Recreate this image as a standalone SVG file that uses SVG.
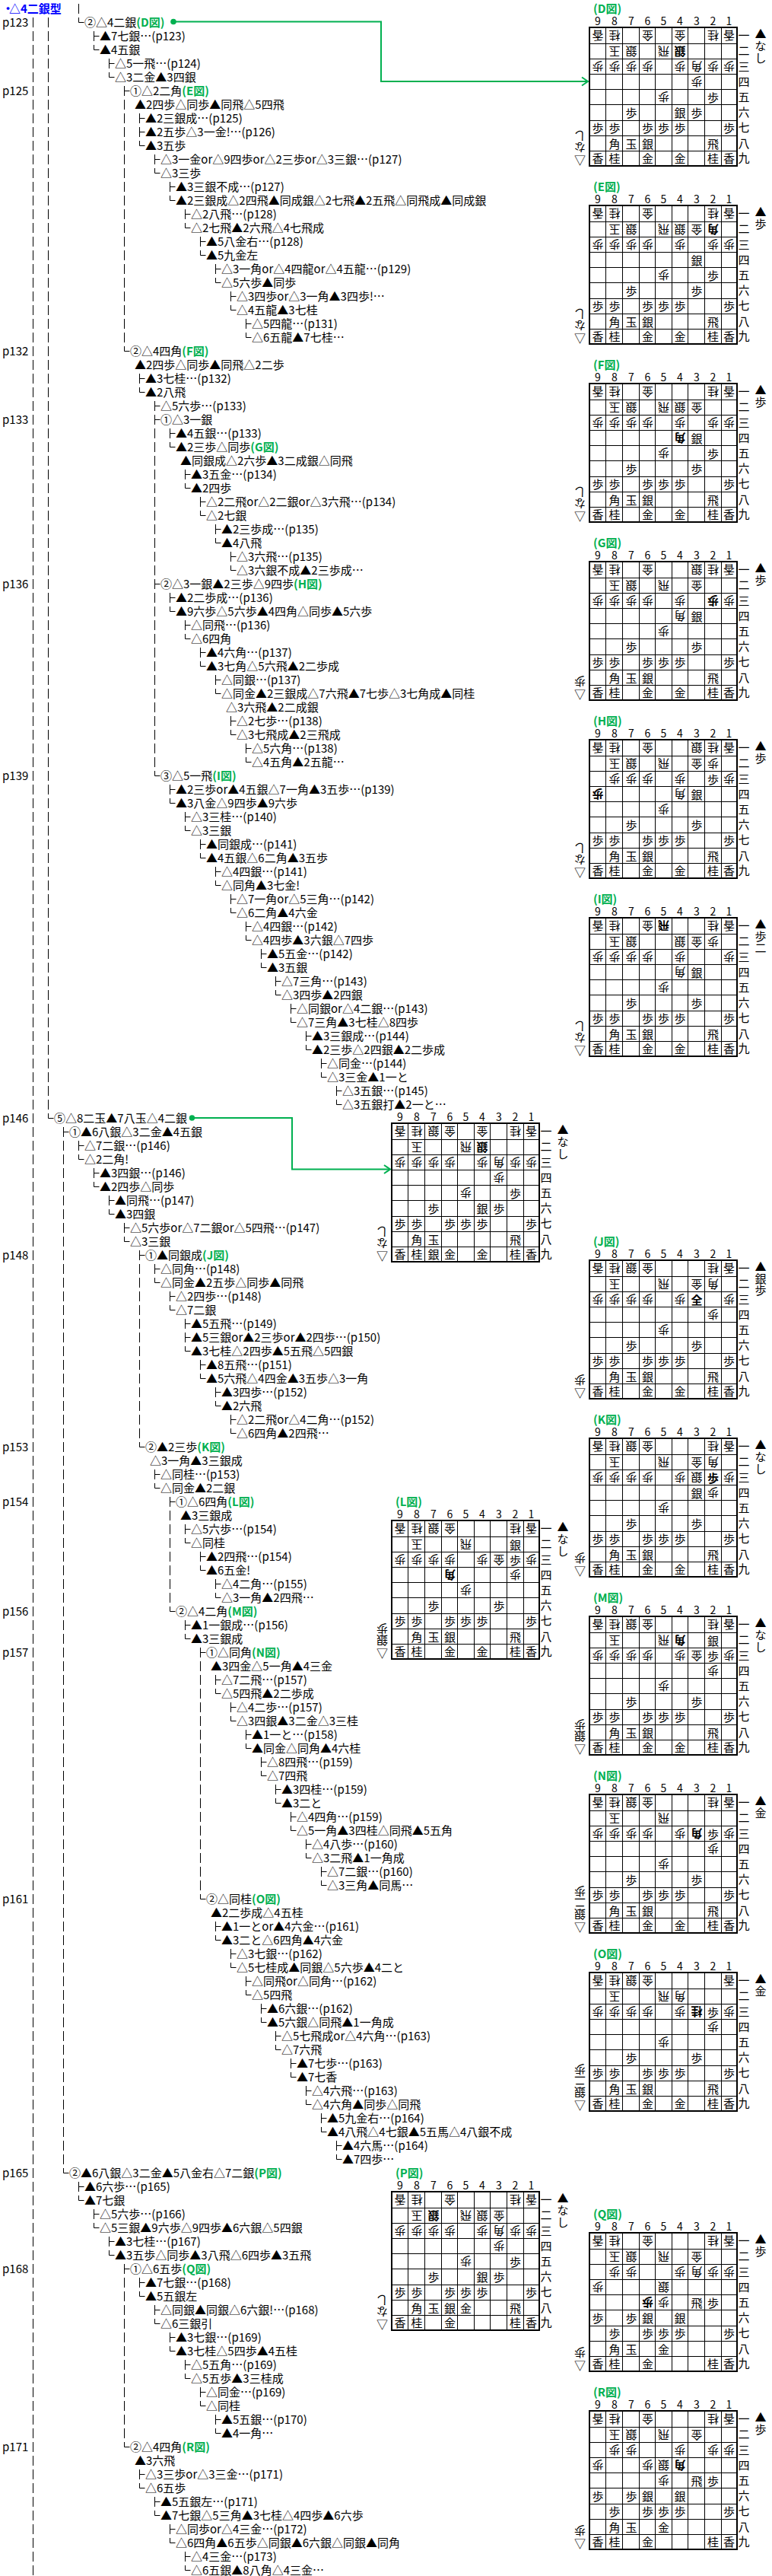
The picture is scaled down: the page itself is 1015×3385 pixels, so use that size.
<svg xmlns="http://www.w3.org/2000/svg" width="1015" height="3385" viewBox="0 0 1015 3385">
<style>
text{font-family:"Noto Sans CJK JP","Noto Sans",sans-serif;font-size:15px;fill:#000}
.g{fill:#00b050;font-weight:700}
.t{fill:#00f;font-weight:700}
.s{text-anchor:middle}
.b{font-weight:700}
.n{text-anchor:middle;font-size:14px}
.c{fill:none;stroke:#000;stroke-width:1}
.d{fill:none;stroke:#000;stroke-width:1;stroke-dasharray:13 5}
.k{fill:none;stroke:#00b050;stroke-width:2}
.o{fill:none;stroke:#000;stroke-width:2}
</style>
<defs>
<marker id="a" markerUnits="userSpaceOnUse" markerWidth="12" markerHeight="14" refX="9" refY="7" orient="auto"><path d="M1 1.5L9 7L1 12.5" fill="none" stroke="#00b050" stroke-width="2"/></marker>
<g id="grid"><path class="c" d="M21.5 0V182M43.5 0V182M65.5 0V182M86.5 0V182M108.5 0V182M129.5 0V182M151.5 0V182M173.5 0V182M0 21.5H194M0 41.5H194M0 61.5H194M0 81.5H194M0 101.5H194M0 122.5H194M0 142.5H194M0 162.5H194"/><rect class="o" width="194" height="182"/></g>
</defs>
<rect width="1015" height="3385" fill="#fff"/>
<g id="connectors">
<path class="d" d="M43.5 23V3384M63.5 23V1458M83.5 1481V2844M103.5 5V18M163.5 113V450M163.5 2975V3204M183.5 149V180M183.5 1643V1890M203.5 527V1008M223.5 1967V2106M243.5 1733V1764M263.5 2165V2484"/>
<path class="c" d="M63.5 1463v6.5h7M83.5 1487.5h7M83.5 2849v6.5h7M103.5 23v6.5h7M163.5 119.5h7M163.5 455v6.5h7M163.5 2981.5h7M163.5 3209v6.5h7M183.5 155.5h7M183.5 173.5h7M183.5 185v6.5h7M183.5 1649.5h7M183.5 1895v6.5h7M203.5 533.5h7M203.5 551.5h7M203.5 767.5h7M203.5 1013v6.5h7M223.5 1973.5h7M223.5 2111v6.5h7M243.5 1739.5h7M243.5 1757.5h7M243.5 1769v6.5h7M263.5 2171.5h7M263.5 2489v6.5h7"/>
<path class="c" d="M103.5 1499v13m0-6.5h7m-7 11.5v6.5h7M103.5 2867v13m0-6.5h7m-7 11.5v6.5h7M123.5 41v13m0-6.5h7m-7 11.5v6.5h7M123.5 1535v13m0-6.5h7m-7 11.5v6.5h7M123.5 2903v13m0-6.5h7m-7 11.5v6.5h7M143.5 77v13m0-6.5h7m-7 11.5v6.5h7M143.5 1571v13m0-6.5h7m-7 11.5v6.5h7M143.5 2939v13m0-6.5h7m-7 11.5v6.5h7M163.5 1607v13m0-6.5h7m-7 11.5v6.5h7M183.5 491v13m0-6.5h7m-7 11.5v6.5h7M183.5 2993v13m0-6.5h7m-7 11.5v6.5h7M183.5 3245v13m0-6.5h7m-7 11.5v6.5h7M203.5 203v13m0-6.5h7m-7 11.5v6.5h7M203.5 1661v13m0-6.5h7m-7 11.5v6.5h7M203.5 1931v13m0-6.5h7m-7 11.5v6.5h7M203.5 3029v13m0-6.5h7m-7 11.5v6.5h7M203.5 3281v13m0-6.5h7m-7 11.5v6.5h7M223.5 239v13m0-6.5h7m-7 11.5v6.5h7M223.5 563v13m0-6.5h7m-7 11.5v6.5h7M223.5 779v13m0-6.5h7m-7 11.5v6.5h7M223.5 1031v13m0-6.5h7m-7 11.5v6.5h7M223.5 1697v13m0-6.5h7m-7 11.5v6.5h7M223.5 3065v13m0-6.5h7m-7 11.5v6.5h7M223.5 3317v13m0-6.5h7m-7 11.5v6.5h7M243.5 275v13m0-6.5h7m-7 11.5v6.5h7M243.5 617v13m0-6.5h7m-7 11.5v6.5h7M243.5 815v13m0-6.5h7m-7 11.5v6.5h7M243.5 1067v13m0-6.5h7m-7 11.5v6.5h7M243.5 2003v13m0-6.5h7m-7 11.5v6.5h7M243.5 2129v13m0-6.5h7m-7 11.5v6.5h7M243.5 3101v13m0-6.5h7m-7 11.5v6.5h7M243.5 3353v13m0-6.5h7m-7 11.5v6.5h7M263.5 311v13m0-6.5h7m-7 11.5v6.5h7M263.5 653v13m0-6.5h7m-7 11.5v6.5h7M263.5 851v13m0-6.5h7m-7 11.5v6.5h7M263.5 1103v13m0-6.5h7m-7 11.5v6.5h7M263.5 1787v13m0-6.5h7m-7 11.5v6.5h7M263.5 2039v13m0-6.5h7m-7 11.5v6.5h7M263.5 3137v13m0-6.5h7m-7 11.5v6.5h7M283.5 347v13m0-6.5h7m-7 11.5v6.5h7M283.5 689v13m0-6.5h7m-7 11.5v6.5h7M283.5 887v13m0-6.5h7m-7 11.5v6.5h7M283.5 1139v13m0-6.5h7m-7 11.5v6.5h7M283.5 1823v13m0-6.5h7m-7 11.5v6.5h7M283.5 2075v13m0-6.5h7m-7 11.5v6.5h7M283.5 2201v13m0-6.5h7m-7 11.5v6.5h7M283.5 2525v13m0-6.5h7m-7 11.5v6.5h7M283.5 3173v13m0-6.5h7m-7 11.5v6.5h7M303.5 383v13m0-6.5h7m-7 11.5v6.5h7M303.5 725v13m0-6.5h7m-7 11.5v6.5h7M303.5 941v13m0-6.5h7m-7 11.5v6.5h7M303.5 1175v13m0-6.5h7m-7 11.5v6.5h7M303.5 1859v13m0-6.5h7m-7 11.5v6.5h7M303.5 2237v13m0-6.5h7m-7 11.5v6.5h7M303.5 2561v13m0-6.5h7m-7 11.5v6.5h7M323.5 419v13m0-6.5h7m-7 11.5v6.5h7M323.5 977v13m0-6.5h7m-7 11.5v6.5h7M323.5 1211v13m0-6.5h7m-7 11.5v6.5h7M323.5 2273v13m0-6.5h7m-7 11.5v6.5h7M323.5 2597v13m0-6.5h7m-7 11.5v6.5h7M343.5 1247v13m0-6.5h7m-7 11.5v6.5h7M343.5 2309v13m0-6.5h7m-7 11.5v6.5h7M343.5 2633v13m0-6.5h7m-7 11.5v6.5h7M362.5 1283v13m0-6.5h7m-7 11.5v6.5h7M362.5 2345v13m0-6.5h7m-7 11.5v6.5h7M362.5 2669v13m0-6.5h7m-7 11.5v6.5h7M382.5 1319v13m0-6.5h7m-7 11.5v6.5h7M382.5 2381v13m0-6.5h7m-7 11.5v6.5h7M382.5 2705v13m0-6.5h7m-7 11.5v6.5h7M402.5 1355v13m0-6.5h7m-7 11.5v6.5h7M402.5 2417v13m0-6.5h7m-7 11.5v6.5h7M402.5 2741v13m0-6.5h7m-7 11.5v6.5h7M422.5 1391v13m0-6.5h7m-7 11.5v6.5h7M422.5 2453v13m0-6.5h7m-7 11.5v6.5h7M422.5 2777v13m0-6.5h7m-7 11.5v6.5h7M442.5 1427v13m0-6.5h7m-7 11.5v6.5h7M442.5 2813v13m0-6.5h7m-7 11.5v6.5h7"/>
<circle cx="228" cy="28.5" r="3.8" fill="#00b050"/>
<path class="k" marker-end="url(#a)" d="M228 28.5H501V107H773"/>
<circle cx="252.5" cy="1469" r="3.8" fill="#00b050"/>
<path class="k" marker-end="url(#a)" d="M252.5 1469H384V1536.5H513"/>
</g>
<g id="r0"><text class="t" x="3" y="17">・<tspan x="12">△4二銀型</tspan></text></g>
<g id="r1"><text x="3" y="35">p123</text><text x="111" y="35">②△4二銀<tspan class="g">(D図)</tspan></text></g>
<g id="r2"><text x="131" y="53">▲7七銀…(p123)</text></g>
<g id="r3"><text x="131" y="71">▲4五銀</text></g>
<g id="r4"><text x="151" y="89">△5一飛…(p124)</text></g>
<g id="r5"><text x="151" y="107">△3二金▲3四銀</text></g>
<g id="r6"><text x="3" y="125">p125</text><text x="171" y="125">①△2二角<tspan class="g">(E図)</tspan></text></g>
<g id="r7"><text x="177" y="143">▲2四歩△同歩▲同飛△5四飛</text></g>
<g id="r8"><text x="191" y="161">▲2三銀成…(p125)</text></g>
<g id="r9"><text x="191" y="179">▲2五歩△3一金!…(p126)</text></g>
<g id="r10"><text x="191" y="197">▲3五歩</text></g>
<g id="r11"><text x="211" y="215">△3一金or△9四歩or△2三歩or△3三銀…(p127)</text></g>
<g id="r12"><text x="211" y="233">△3三歩</text></g>
<g id="r13"><text x="231" y="251">▲3三銀不成…(p127)</text></g>
<g id="r14"><text x="231" y="269">▲2三銀成△2四飛▲同成銀△2七飛▲2五飛△同飛成▲同成銀</text></g>
<g id="r15"><text x="251" y="287">△2八飛…(p128)</text></g>
<g id="r16"><text x="251" y="305">△2七飛▲2六飛△4七飛成</text></g>
<g id="r17"><text x="271" y="323">▲5八金右…(p128)</text></g>
<g id="r18"><text x="271" y="341">▲5九金左</text></g>
<g id="r19"><text x="291" y="359">△3一角or△4四龍or△4五龍…(p129)</text></g>
<g id="r20"><text x="291" y="377">△5六歩▲同歩</text></g>
<g id="r21"><text x="311" y="395">△3四歩or△3一角▲3四歩!…</text></g>
<g id="r22"><text x="311" y="413">△4五龍▲3七桂</text></g>
<g id="r23"><text x="331" y="431">△5四龍…(p131)</text></g>
<g id="r24"><text x="331" y="449">△6五龍▲7七桂…</text></g>
<g id="r25"><text x="3" y="467">p132</text><text x="171" y="467">②△4四角<tspan class="g">(F図)</tspan></text></g>
<g id="r26"><text x="177" y="485">▲2四歩△同歩▲同飛△2二歩</text></g>
<g id="r27"><text x="191" y="503">▲3七桂…(p132)</text></g>
<g id="r28"><text x="191" y="521">▲2八飛</text></g>
<g id="r29"><text x="211" y="539">△5六歩…(p133)</text></g>
<g id="r30"><text x="3" y="557">p133</text><text x="211" y="557">①△3一銀</text></g>
<g id="r31"><text x="231" y="575">▲4五銀…(p133)</text></g>
<g id="r32"><text x="231" y="593">▲2三歩△同歩<tspan class="g">(G図)</tspan></text></g>
<g id="r33"><text x="237" y="611">▲同銀成△2六歩▲3二成銀△同飛</text></g>
<g id="r34"><text x="251" y="629">▲3五金…(p134)</text></g>
<g id="r35"><text x="251" y="647">▲2四歩</text></g>
<g id="r36"><text x="271" y="665">△2二飛or△2二銀or△3六飛…(p134)</text></g>
<g id="r37"><text x="271" y="683">△2七銀</text></g>
<g id="r38"><text x="291" y="701">▲2三歩成…(p135)</text></g>
<g id="r39"><text x="291" y="719">▲4八飛</text></g>
<g id="r40"><text x="311" y="737">△3六飛…(p135)</text></g>
<g id="r41"><text x="311" y="755">△3六銀不成▲2三歩成…</text></g>
<g id="r42"><text x="3" y="773">p136</text><text x="211" y="773">②△3一銀▲2三歩△9四歩<tspan class="g">(H図)</tspan></text></g>
<g id="r43"><text x="231" y="791">▲2二歩成…(p136)</text></g>
<g id="r44"><text x="231" y="809">▲9六歩△5六歩▲4四角△同歩▲5六歩</text></g>
<g id="r45"><text x="251" y="827">△同飛…(p136)</text></g>
<g id="r46"><text x="251" y="845">△6四角</text></g>
<g id="r47"><text x="271" y="863">▲4六角…(p137)</text></g>
<g id="r48"><text x="271" y="881">▲3七角△5六飛▲2二歩成</text></g>
<g id="r49"><text x="291" y="899">△同銀…(p137)</text></g>
<g id="r50"><text x="291" y="917">△同金▲2三銀成△7六飛▲7七歩△3七角成▲同桂</text></g>
<g id="r51"><text x="297" y="935">△3六飛▲2二成銀</text></g>
<g id="r52"><text x="311" y="953">△2七歩…(p138)</text></g>
<g id="r53"><text x="311" y="971">△3七飛成▲2三飛成</text></g>
<g id="r54"><text x="331" y="989">△5六角…(p138)</text></g>
<g id="r55"><text x="331" y="1007">△4五角▲2五龍…</text></g>
<g id="r56"><text x="3" y="1025">p139</text><text x="211" y="1025">③△5一飛<tspan class="g">(I図)</tspan></text></g>
<g id="r57"><text x="231" y="1043">▲2三歩or▲4五銀△7一角▲3五歩…(p139)</text></g>
<g id="r58"><text x="231" y="1061">▲3八金△9四歩▲9六歩</text></g>
<g id="r59"><text x="251" y="1079">△3三桂…(p140)</text></g>
<g id="r60"><text x="251" y="1097">△3三銀</text></g>
<g id="r61"><text x="271" y="1115">▲同銀成…(p141)</text></g>
<g id="r62"><text x="271" y="1133">▲4五銀△6二角▲3五歩</text></g>
<g id="r63"><text x="291" y="1151">△4四銀…(p141)</text></g>
<g id="r64"><text x="291" y="1169">△同角▲3七金!</text></g>
<g id="r65"><text x="311" y="1187">△7一角or△5三角…(p142)</text></g>
<g id="r66"><text x="311" y="1205">△6二角▲4六金</text></g>
<g id="r67"><text x="331" y="1223">△4四銀…(p142)</text></g>
<g id="r68"><text x="331" y="1241">△4四歩▲3六銀△7四歩</text></g>
<g id="r69"><text x="351" y="1259">▲5五金…(p142)</text></g>
<g id="r70"><text x="351" y="1277">▲3五銀</text></g>
<g id="r71"><text x="370" y="1295">△7三角…(p143)</text></g>
<g id="r72"><text x="370" y="1313">△3四歩▲2四銀</text></g>
<g id="r73"><text x="390" y="1331">△同銀or△4二銀…(p143)</text></g>
<g id="r74"><text x="390" y="1349">△7三角▲3七桂△8四歩</text></g>
<g id="r75"><text x="410" y="1367">▲3三銀成…(p144)</text></g>
<g id="r76"><text x="410" y="1385">▲2三歩△2四銀▲2二歩成</text></g>
<g id="r77"><text x="430" y="1403">△同金…(p144)</text></g>
<g id="r78"><text x="430" y="1421">△3三金▲1一と</text></g>
<g id="r79"><text x="450" y="1439">△3五銀…(p145)</text></g>
<g id="r80"><text x="450" y="1457">△3五銀打▲2一と…</text></g>
<g id="r81"><text x="3" y="1475">p146</text><text x="71" y="1475">⑤△8二玉▲7八玉△4二銀</text></g>
<g id="r82"><text x="91" y="1493">①▲6八銀△3二金▲4五銀</text></g>
<g id="r83"><text x="111" y="1511">△7二銀…(p146)</text></g>
<g id="r84"><text x="111" y="1529">△2二角!</text></g>
<g id="r85"><text x="131" y="1547">▲3四銀…(p146)</text></g>
<g id="r86"><text x="131" y="1565">▲2四歩△同歩</text></g>
<g id="r87"><text x="151" y="1583">▲同飛…(p147)</text></g>
<g id="r88"><text x="151" y="1601">▲3四銀</text></g>
<g id="r89"><text x="171" y="1619">△5六歩or△7二銀or△5四飛…(p147)</text></g>
<g id="r90"><text x="171" y="1637">△3三銀</text></g>
<g id="r91"><text x="3" y="1655">p148</text><text x="191" y="1655">①▲同銀成<tspan class="g">(J図)</tspan></text></g>
<g id="r92"><text x="211" y="1673">△同角…(p148)</text></g>
<g id="r93"><text x="211" y="1691">△同金▲2五歩△同歩▲同飛</text></g>
<g id="r94"><text x="231" y="1709">△2四歩…(p148)</text></g>
<g id="r95"><text x="231" y="1727">△7二銀</text></g>
<g id="r96"><text x="251" y="1745">▲5五飛…(p149)</text></g>
<g id="r97"><text x="251" y="1763">▲5三銀or▲2三歩or▲2四歩…(p150)</text></g>
<g id="r98"><text x="251" y="1781">▲3七桂△2四歩▲5五飛△5四銀</text></g>
<g id="r99"><text x="271" y="1799">▲8五飛…(p151)</text></g>
<g id="r100"><text x="271" y="1817">▲5六飛△4四金▲3五歩△3一角</text></g>
<g id="r101"><text x="291" y="1835">▲3四歩…(p152)</text></g>
<g id="r102"><text x="291" y="1853">▲2六飛</text></g>
<g id="r103"><text x="311" y="1871">△2二飛or△4二角…(p152)</text></g>
<g id="r104"><text x="311" y="1889">△6四角▲2四飛…</text></g>
<g id="r105"><text x="3" y="1907">p153</text><text x="191" y="1907">②▲2三歩<tspan class="g">(K図)</tspan></text></g>
<g id="r106"><text x="197" y="1925">△3一角▲3三銀成</text></g>
<g id="r107"><text x="211" y="1943">△同桂…(p153)</text></g>
<g id="r108"><text x="211" y="1961">△同金▲2二銀</text></g>
<g id="r109"><text x="3" y="1979">p154</text><text x="231" y="1979">①△6四角<tspan class="g">(L図)</tspan></text></g>
<g id="r110"><text x="237" y="1997">▲3三銀成</text></g>
<g id="r111"><text x="251" y="2015">△5六歩…(p154)</text></g>
<g id="r112"><text x="251" y="2033">△同桂</text></g>
<g id="r113"><text x="271" y="2051">▲2四飛…(p154)</text></g>
<g id="r114"><text x="271" y="2069">▲6五金!</text></g>
<g id="r115"><text x="291" y="2087">△4二角…(p155)</text></g>
<g id="r116"><text x="291" y="2105">△3一角▲2四飛…</text></g>
<g id="r117"><text x="3" y="2123">p156</text><text x="231" y="2123">②△4二角<tspan class="g">(M図)</tspan></text></g>
<g id="r118"><text x="251" y="2141">▲1一銀成…(p156)</text></g>
<g id="r119"><text x="251" y="2159">▲3三銀成</text></g>
<g id="r120"><text x="3" y="2177">p157</text><text x="271" y="2177">①△同角<tspan class="g">(N図)</tspan></text></g>
<g id="r121"><text x="277" y="2195">▲3四金△5一角▲4三金</text></g>
<g id="r122"><text x="291" y="2213">△7二飛…(p157)</text></g>
<g id="r123"><text x="291" y="2231">△5四飛▲2二歩成</text></g>
<g id="r124"><text x="311" y="2249">△4二歩…(p157)</text></g>
<g id="r125"><text x="311" y="2267">△3四銀▲3二金△3三桂</text></g>
<g id="r126"><text x="331" y="2285">▲1一と…(p158)</text></g>
<g id="r127"><text x="331" y="2303">▲同金△同角▲4六桂</text></g>
<g id="r128"><text x="351" y="2321">△8四飛…(p159)</text></g>
<g id="r129"><text x="351" y="2339">△7四飛</text></g>
<g id="r130"><text x="370" y="2357">▲3四桂…(p159)</text></g>
<g id="r131"><text x="370" y="2375">▲3二と</text></g>
<g id="r132"><text x="390" y="2393">△4四角…(p159)</text></g>
<g id="r133"><text x="390" y="2411">△5一角▲3四桂△同飛▲5五角</text></g>
<g id="r134"><text x="410" y="2429">△4八歩…(p160)</text></g>
<g id="r135"><text x="410" y="2447">△3二飛▲1一角成</text></g>
<g id="r136"><text x="430" y="2465">△7二銀…(p160)</text></g>
<g id="r137"><text x="430" y="2483">△3三角▲同馬…</text></g>
<g id="r138"><text x="3" y="2501">p161</text><text x="271" y="2501">②△同桂<tspan class="g">(O図)</tspan></text></g>
<g id="r139"><text x="277" y="2519">▲2二歩成△4五桂</text></g>
<g id="r140"><text x="291" y="2537">▲1一とor▲4六金…(p161)</text></g>
<g id="r141"><text x="291" y="2555">▲3二と△6四角▲4六金</text></g>
<g id="r142"><text x="311" y="2573">△3七銀…(p162)</text></g>
<g id="r143"><text x="311" y="2591">△5七桂成▲同銀△5六歩▲4二と</text></g>
<g id="r144"><text x="331" y="2609">△同飛or△同角…(p162)</text></g>
<g id="r145"><text x="331" y="2627">△5四飛</text></g>
<g id="r146"><text x="351" y="2645">▲6六銀…(p162)</text></g>
<g id="r147"><text x="351" y="2663">▲5六銀△同飛▲1一角成</text></g>
<g id="r148"><text x="370" y="2681">△5七飛成or△4六角…(p163)</text></g>
<g id="r149"><text x="370" y="2699">△7六飛</text></g>
<g id="r150"><text x="390" y="2717">▲7七歩…(p163)</text></g>
<g id="r151"><text x="390" y="2735">▲7七香</text></g>
<g id="r152"><text x="410" y="2753">△4六飛…(p163)</text></g>
<g id="r153"><text x="410" y="2771">△4六角▲同歩△同飛</text></g>
<g id="r154"><text x="430" y="2789">▲5九金右…(p164)</text></g>
<g id="r155"><text x="430" y="2807">▲4八飛△4七銀▲5五馬△4八銀不成</text></g>
<g id="r156"><text x="450" y="2825">▲4六馬…(p164)</text></g>
<g id="r157"><text x="450" y="2843">▲7四歩…</text></g>
<g id="r158"><text x="3" y="2861">p165</text><text x="91" y="2861">②▲6八銀△3二金▲5八金右△7二銀<tspan class="g">(P図)</tspan></text></g>
<g id="r159"><text x="111" y="2879">▲6六歩…(p165)</text></g>
<g id="r160"><text x="111" y="2897">▲7七銀</text></g>
<g id="r161"><text x="131" y="2915">△5六歩…(p166)</text></g>
<g id="r162"><text x="131" y="2933">△5三銀▲9六歩△9四歩▲6六銀△5四銀</text></g>
<g id="r163"><text x="151" y="2951">▲3七桂…(p167)</text></g>
<g id="r164"><text x="151" y="2969">▲3五歩△同歩▲3八飛△6四歩▲3五飛</text></g>
<g id="r165"><text x="3" y="2987">p168</text><text x="171" y="2987">①△6五歩<tspan class="g">(Q図)</tspan></text></g>
<g id="r166"><text x="191" y="3005">▲7七銀…(p168)</text></g>
<g id="r167"><text x="191" y="3023">▲5五銀左</text></g>
<g id="r168"><text x="211" y="3041">△同銀▲同銀△6六銀!…(p168)</text></g>
<g id="r169"><text x="211" y="3059">△6三銀引</text></g>
<g id="r170"><text x="231" y="3077">▲3七銀…(p169)</text></g>
<g id="r171"><text x="231" y="3095">▲3七桂△5四歩▲4五桂</text></g>
<g id="r172"><text x="251" y="3113">△5五角…(p169)</text></g>
<g id="r173"><text x="251" y="3131">△5五歩▲3三桂成</text></g>
<g id="r174"><text x="271" y="3149">△同金…(p169)</text></g>
<g id="r175"><text x="271" y="3167">△同桂</text></g>
<g id="r176"><text x="291" y="3185">▲5五銀…(p170)</text></g>
<g id="r177"><text x="291" y="3203">▲4一角…</text></g>
<g id="r178"><text x="3" y="3221">p171</text><text x="171" y="3221">②△4四角<tspan class="g">(R図)</tspan></text></g>
<g id="r179"><text x="177" y="3239">▲3六飛</text></g>
<g id="r180"><text x="191" y="3257">△3三歩or△3三金…(p171)</text></g>
<g id="r181"><text x="191" y="3275">△6五歩</text></g>
<g id="r182"><text x="211" y="3293">▲5五銀左…(p171)</text></g>
<g id="r183"><text x="211" y="3311">▲7七銀△5三角▲3七桂△4四歩▲6六歩</text></g>
<g id="r184"><text x="231" y="3329">△同歩or△4三金…(p172)</text></g>
<g id="r185"><text x="231" y="3347">△6四角▲6五歩△同銀▲6六銀△同銀▲同角</text></g>
<g id="r186"><text x="251" y="3365">△4三金…(p173)</text></g>
<g id="r187"><text x="251" y="3383">△6五銀▲8八角△4三金…</text></g>

<g id="board-D" transform="translate(775,36)"><use href="#grid"/><text class="g" x="5" y="-19">(D図)</text><text class="n" x="11 33 55 76.5 97.5 119 141 162.5 183.5" y="-3">987654321</text><text class="s" x="203 203 203 203 203 203 203 203 203" y="16 36 57 77 97 117 137 158 177">一二三四五六七八九</text>
<text class="s" x="225 225 225" y="14.3 29.5 45.5">▲なし</text><text class="s" x="-12.5" y="180">▽</text><text rotate="180" x="-5 -5" y="152.3 137.3">なし</text>
<text rotate="180" x="18.5 40.5 84 126.5 170 191" y="5.3">香桂金金桂香</text><text rotate="180" x="40.5 62.5 105" y="26.3">玉銀飛</text><text class="b" rotate="180" x="126.5" y="26.3">銀</text><text rotate="180" x="18.5 40.5 62.5 84 126.5 148.5 170 191" y="46.3">歩歩歩歩歩角歩歩</text><text rotate="180" x="148.5" y="66.3">歩</text><text rotate="180" x="105" y="86.3">歩</text>
<text class="s" x="162.5" y="97.7">歩</text><text class="s" x="55 119 141" y="117.7">歩銀歩</text><text class="s" x="11 33 76.5 97.5 119 183.5" y="138.2">歩歩歩歩歩歩</text><text class="s" x="33 55 76.5 162.5" y="158.7">角玉銀飛</text><text class="s" x="11 33 76.5 119 162.5 183.5" y="178.2">香桂金金桂香</text></g>

<g id="board-E" transform="translate(775,270)"><use href="#grid"/><text class="g" x="5" y="-19">(E図)</text><text class="n" x="11 33 55 76.5 97.5 119 141 162.5 183.5" y="-3">987654321</text><text class="s" x="203 203 203 203 203 203 203 203 203" y="16 36 57 77 97 117 137 158 177">一二三四五六七八九</text>
<text class="s" x="225 225" y="14.3 29.5">▲歩</text><text class="s" x="-12.5" y="180">▽</text><text rotate="180" x="-5 -5" y="152.3 137.3">なし</text>
<text rotate="180" x="18.5 40.5 84 170 191" y="5.3">香桂金桂香</text><text rotate="180" x="40.5 62.5 105 126.5 148.5" y="26.3">玉銀飛銀金</text><text class="b" rotate="180" x="170" y="26.3">角</text><text rotate="180" x="18.5 40.5 62.5 84 126.5 170 191" y="46.3">歩歩歩歩歩歩歩</text><text rotate="180" x="105" y="86.3">歩</text>
<text class="s" x="141" y="77.7">銀</text><text class="s" x="162.5" y="97.7">歩</text><text class="s" x="55 141" y="117.7">歩歩</text><text class="s" x="11 33 76.5 97.5 119 183.5" y="138.2">歩歩歩歩歩歩</text><text class="s" x="33 55 76.5 162.5" y="158.7">角玉銀飛</text><text class="s" x="11 33 76.5 119 162.5 183.5" y="178.2">香桂金金桂香</text></g>

<g id="board-F" transform="translate(775,504)"><use href="#grid"/><text class="g" x="5" y="-19">(F図)</text><text class="n" x="11 33 55 76.5 97.5 119 141 162.5 183.5" y="-3">987654321</text><text class="s" x="203 203 203 203 203 203 203 203 203" y="16 36 57 77 97 117 137 158 177">一二三四五六七八九</text>
<text class="s" x="225 225" y="14.3 29.5">▲歩</text><text class="s" x="-12.5" y="180">▽</text><text rotate="180" x="-5 -5" y="152.3 137.3">なし</text>
<text rotate="180" x="18.5 40.5 84 170 191" y="5.3">香桂金桂香</text><text rotate="180" x="40.5 62.5 105 126.5 148.5" y="26.3">玉銀飛銀金</text><text rotate="180" x="18.5 40.5 62.5 84 126.5 170 191" y="46.3">歩歩歩歩歩歩歩</text><text class="b" rotate="180" x="126.5" y="66.3">角</text><text rotate="180" x="105" y="86.3">歩</text>
<text class="s" x="141" y="77.7">銀</text><text class="s" x="162.5" y="97.7">歩</text><text class="s" x="55 141" y="117.7">歩歩</text><text class="s" x="11 33 76.5 97.5 119 183.5" y="138.2">歩歩歩歩歩歩</text><text class="s" x="33 55 76.5 162.5" y="158.7">角玉銀飛</text><text class="s" x="11 33 76.5 119 162.5 183.5" y="178.2">香桂金金桂香</text></g>

<g id="board-G" transform="translate(775,738)"><use href="#grid"/><text class="g" x="5" y="-19">(G図)</text><text class="n" x="11 33 55 76.5 97.5 119 141 162.5 183.5" y="-3">987654321</text><text class="s" x="203 203 203 203 203 203 203 203 203" y="16 36 57 77 97 117 137 158 177">一二三四五六七八九</text>
<text class="s" x="225 225" y="14.3 29.5">▲歩</text><text class="s" x="-12.5" y="180">▽</text><text rotate="180" x="-5" y="152.3">歩</text>
<text rotate="180" x="18.5 40.5 84 148.5 170 191" y="5.3">香桂金銀桂香</text><text rotate="180" x="40.5 62.5 105 148.5" y="26.3">玉銀飛金</text><text rotate="180" x="18.5 40.5 62.5 84 126.5 191" y="46.3">歩歩歩歩歩歩</text><text class="b" rotate="180" x="170" y="46.3">歩</text><text rotate="180" x="126.5" y="66.3">角</text><text rotate="180" x="105" y="86.3">歩</text>
<text class="s" x="141" y="77.7">銀</text><text class="s" x="55 141" y="117.7">歩歩</text><text class="s" x="11 33 76.5 97.5 119 183.5" y="138.2">歩歩歩歩歩歩</text><text class="s" x="33 55 76.5 162.5" y="158.7">角玉銀飛</text><text class="s" x="11 33 76.5 119 162.5 183.5" y="178.2">香桂金金桂香</text></g>

<g id="board-H" transform="translate(775,972)"><use href="#grid"/><text class="g" x="5" y="-19">(H図)</text><text class="n" x="11 33 55 76.5 97.5 119 141 162.5 183.5" y="-3">987654321</text><text class="s" x="203 203 203 203 203 203 203 203 203" y="16 36 57 77 97 117 137 158 177">一二三四五六七八九</text>
<text class="s" x="225 225" y="14.3 29.5">▲歩</text><text class="s" x="-12.5" y="180">▽</text><text rotate="180" x="-5 -5" y="152.3 137.3">なし</text>
<text rotate="180" x="18.5 40.5 84 148.5 170 191" y="5.3">香桂金銀桂香</text><text rotate="180" x="40.5 62.5 105 148.5 170" y="26.3">玉銀飛金歩</text><text rotate="180" x="40.5 62.5 84 126.5 191" y="46.3">歩歩歩歩歩</text><text class="b" rotate="180" x="18.5" y="66.3">歩</text><text rotate="180" x="126.5" y="66.3">角</text><text rotate="180" x="105" y="86.3">歩</text>
<text class="s" x="162.5" y="57.7">歩</text><text class="s" x="141" y="77.7">銀</text><text class="s" x="55 141" y="117.7">歩歩</text><text class="s" x="11 33 76.5 97.5 119 183.5" y="138.2">歩歩歩歩歩歩</text><text class="s" x="33 55 76.5 162.5" y="158.7">角玉銀飛</text><text class="s" x="11 33 76.5 119 162.5 183.5" y="178.2">香桂金金桂香</text></g>

<g id="board-I" transform="translate(775,1206)"><use href="#grid"/><text class="g" x="5" y="-19">(I図)</text><text class="n" x="11 33 55 76.5 97.5 119 141 162.5 183.5" y="-3">987654321</text><text class="s" x="203 203 203 203 203 203 203 203 203" y="16 36 57 77 97 117 137 158 177">一二三四五六七八九</text>
<text class="s" x="225 225 225" y="14.3 29.5 45">▲歩二</text><text class="s" x="-12.5" y="180">▽</text><text rotate="180" x="-5 -5" y="152.3 137.3">なし</text>
<text rotate="180" x="18.5 40.5 84 170 191" y="5.3">香桂金桂香</text><text class="b" rotate="180" x="105" y="5.3">飛</text><text rotate="180" x="40.5 62.5 126.5 148.5 170" y="26.3">玉銀銀金歩</text><text rotate="180" x="18.5 40.5 62.5 84 126.5 191" y="46.3">歩歩歩歩歩歩</text><text rotate="180" x="126.5" y="66.3">角</text><text rotate="180" x="105" y="86.3">歩</text>
<text class="s" x="141" y="77.7">銀</text><text class="s" x="55 141" y="117.7">歩歩</text><text class="s" x="11 33 76.5 97.5 119 183.5" y="138.2">歩歩歩歩歩歩</text><text class="s" x="33 55 76.5 162.5" y="158.7">角玉銀飛</text><text class="s" x="11 33 76.5 119 162.5 183.5" y="178.2">香桂金金桂香</text></g>

<g id="board-X" transform="translate(515,1476)"><use href="#grid"/><text class="n" x="11 33 55 76.5 97.5 119 141 162.5 183.5" y="-3">987654321</text><text class="s" x="203 203 203 203 203 203 203 203 203" y="16 36 57 77 97 117 137 158 177">一二三四五六七八九</text>
<text class="s" x="225 225 225" y="14.3 29.5 45.5">▲なし</text><text class="s" x="-12.5" y="180">▽</text><text rotate="180" x="-5 -5" y="152.3 137.3">なし</text>
<text rotate="180" x="18.5 40.5 62.5 84 126.5 170 191" y="5.3">香桂銀金金桂香</text><text rotate="180" x="40.5 105" y="26.3">玉飛</text><text class="b" rotate="180" x="126.5" y="26.3">銀</text><text rotate="180" x="18.5 40.5 62.5 84 126.5 148.5 170 191" y="46.3">歩歩歩歩歩角歩歩</text><text rotate="180" x="148.5" y="66.3">歩</text><text rotate="180" x="105" y="86.3">歩</text>
<text class="s" x="162.5" y="97.7">歩</text><text class="s" x="55 119 141" y="117.7">歩銀歩</text><text class="s" x="11 33 76.5 97.5 119 183.5" y="138.2">歩歩歩歩歩歩</text><text class="s" x="33 55 162.5" y="158.7">角玉飛</text><text class="s" x="11 33 55 76.5 119 162.5 183.5" y="178.2">香桂銀金金桂香</text></g>

<g id="board-J" transform="translate(775,1656)"><use href="#grid"/><text class="g" x="5" y="-19">(J図)</text><text class="n" x="11 33 55 76.5 97.5 119 141 162.5 183.5" y="-3">987654321</text><text class="s" x="203 203 203 203 203 203 203 203 203" y="16 36 57 77 97 117 137 158 177">一二三四五六七八九</text>
<text class="s" x="225 225 225" y="14.3 29.5 45">▲銀歩</text><text class="s" x="-12.5" y="180">▽</text><text rotate="180" x="-5" y="152.3">歩</text>
<text rotate="180" x="18.5 40.5 62.5 84 170 191" y="5.3">香桂銀金桂香</text><text rotate="180" x="40.5 105 148.5 170" y="26.3">玉飛金角</text><text rotate="180" x="18.5 40.5 62.5 84 126.5 191" y="46.3">歩歩歩歩歩歩</text><text rotate="180" x="170" y="66.3">歩</text><text rotate="180" x="105" y="86.3">歩</text>
<text class="s b" x="141" y="57.7">全</text><text class="s" x="55 141" y="117.7">歩歩</text><text class="s" x="11 33 76.5 97.5 119 183.5" y="138.2">歩歩歩歩歩歩</text><text class="s" x="33 55 76.5 162.5" y="158.7">角玉銀飛</text><text class="s" x="11 33 76.5 119 162.5 183.5" y="178.2">香桂金金桂香</text></g>

<g id="board-K" transform="translate(775,1890)"><use href="#grid"/><text class="g" x="5" y="-19">(K図)</text><text class="n" x="11 33 55 76.5 97.5 119 141 162.5 183.5" y="-3">987654321</text><text class="s" x="203 203 203 203 203 203 203 203 203" y="16 36 57 77 97 117 137 158 177">一二三四五六七八九</text>
<text class="s" x="225 225 225" y="14.3 29.5 45.5">▲なし</text><text class="s" x="-12.5" y="180">▽</text><text rotate="180" x="-5" y="152.3">歩</text>
<text rotate="180" x="18.5 40.5 62.5 84 170 191" y="5.3">香桂銀金桂香</text><text rotate="180" x="40.5 105 148.5 170" y="26.3">玉飛金角</text><text rotate="180" x="18.5 40.5 62.5 84 126.5 148.5 191" y="46.3">歩歩歩歩歩銀歩</text><text rotate="180" x="170" y="66.3">歩</text><text rotate="180" x="105" y="86.3">歩</text>
<text class="s b" x="162.5" y="57.7">歩</text><text class="s" x="141" y="77.7">銀</text><text class="s" x="55 141" y="117.7">歩歩</text><text class="s" x="11 33 76.5 97.5 119 183.5" y="138.2">歩歩歩歩歩歩</text><text class="s" x="33 55 76.5 162.5" y="158.7">角玉銀飛</text><text class="s" x="11 33 76.5 119 162.5 183.5" y="178.2">香桂金金桂香</text></g>

<g id="board-L" transform="translate(515,1998)"><use href="#grid"/><text class="g" x="5" y="-19">(L図)</text><text class="n" x="11 33 55 76.5 97.5 119 141 162.5 183.5" y="-3">987654321</text><text class="s" x="203 203 203 203 203 203 203 203 203" y="16 36 57 77 97 117 137 158 177">一二三四五六七八九</text>
<text class="s" x="225 225 225" y="14.3 29.5 45.5">▲なし</text><text class="s" x="-12.5" y="180">▽</text><text rotate="180" x="-5 -5" y="152.3 137.3">銀歩</text>
<text rotate="180" x="18.5 40.5 62.5 84 170 191" y="5.3">香桂銀金桂香</text><text rotate="180" x="40.5 105" y="26.3">玉飛</text><text rotate="180" x="18.5 40.5 62.5 84 126.5 148.5 191" y="46.3">歩歩歩歩歩金歩</text><text class="b" rotate="180" x="84" y="66.3">角</text><text rotate="180" x="170" y="66.3">歩</text><text rotate="180" x="105" y="86.3">歩</text>
<text class="s" x="162.5" y="37.7">銀</text><text class="s" x="162.5" y="57.7">歩</text><text class="s" x="55 141" y="117.7">歩歩</text><text class="s" x="11 33 76.5 97.5 119 183.5" y="138.2">歩歩歩歩歩歩</text><text class="s" x="33 55 76.5 162.5" y="158.7">角玉銀飛</text><text class="s" x="11 33 76.5 119 162.5 183.5" y="178.2">香桂金金桂香</text></g>

<g id="board-M" transform="translate(775,2124)"><use href="#grid"/><text class="g" x="5" y="-19">(M図)</text><text class="n" x="11 33 55 76.5 97.5 119 141 162.5 183.5" y="-3">987654321</text><text class="s" x="203 203 203 203 203 203 203 203 203" y="16 36 57 77 97 117 137 158 177">一二三四五六七八九</text>
<text class="s" x="225 225 225" y="14.3 29.5 45.5">▲なし</text><text class="s" x="-12.5" y="180">▽</text><text rotate="180" x="-5 -5" y="152.3 137.3">銀歩</text>
<text rotate="180" x="18.5 40.5 62.5 84 170 191" y="5.3">香桂銀金桂香</text><text rotate="180" x="40.5 105" y="26.3">玉飛</text><text class="b" rotate="180" x="126.5" y="26.3">角</text><text rotate="180" x="18.5 40.5 62.5 84 126.5 148.5 191" y="46.3">歩歩歩歩歩金歩</text><text rotate="180" x="170" y="66.3">歩</text><text rotate="180" x="105" y="86.3">歩</text>
<text class="s" x="162.5" y="37.7">銀</text><text class="s" x="162.5" y="57.7">歩</text><text class="s" x="55 141" y="117.7">歩歩</text><text class="s" x="11 33 76.5 97.5 119 183.5" y="138.2">歩歩歩歩歩歩</text><text class="s" x="33 55 76.5 162.5" y="158.7">角玉銀飛</text><text class="s" x="11 33 76.5 119 162.5 183.5" y="178.2">香桂金金桂香</text></g>

<g id="board-N" transform="translate(775,2358)"><use href="#grid"/><text class="g" x="5" y="-19">(N図)</text><text class="n" x="11 33 55 76.5 97.5 119 141 162.5 183.5" y="-3">987654321</text><text class="s" x="203 203 203 203 203 203 203 203 203" y="16 36 57 77 97 117 137 158 177">一二三四五六七八九</text>
<text class="s" x="225 225" y="14.3 29.5">▲金</text><text class="s" x="-12.5" y="180">▽</text><text rotate="180" x="-5 -5 -5" y="152.3 137.3 122">銀二歩</text>
<text rotate="180" x="18.5 40.5 62.5 84 170 191" y="5.3">香桂銀金桂香</text><text rotate="180" x="40.5 105" y="26.3">玉飛</text><text rotate="180" x="18.5 40.5 62.5 84 126.5 191" y="46.3">歩歩歩歩歩歩</text><text class="b" rotate="180" x="148.5" y="46.3">角</text><text rotate="180" x="170" y="66.3">歩</text><text rotate="180" x="105" y="86.3">歩</text>
<text class="s" x="162.5" y="57.7">歩</text><text class="s" x="55 141" y="117.7">歩歩</text><text class="s" x="11 33 76.5 97.5 119 183.5" y="138.2">歩歩歩歩歩歩</text><text class="s" x="33 55 76.5 162.5" y="158.7">角玉銀飛</text><text class="s" x="11 33 76.5 119 162.5 183.5" y="178.2">香桂金金桂香</text></g>

<g id="board-O" transform="translate(775,2592)"><use href="#grid"/><text class="g" x="5" y="-19">(O図)</text><text class="n" x="11 33 55 76.5 97.5 119 141 162.5 183.5" y="-3">987654321</text><text class="s" x="203 203 203 203 203 203 203 203 203" y="16 36 57 77 97 117 137 158 177">一二三四五六七八九</text>
<text class="s" x="225 225" y="14.3 29.5">▲金</text><text class="s" x="-12.5" y="180">▽</text><text rotate="180" x="-5 -5 -5" y="152.3 137.3 122">銀二歩</text>
<text rotate="180" x="18.5 40.5 62.5 84 191" y="5.3">香桂銀金香</text><text rotate="180" x="40.5 105 126.5" y="26.3">玉飛角</text><text rotate="180" x="18.5 40.5 62.5 84 126.5 191" y="46.3">歩歩歩歩歩歩</text><text class="b" rotate="180" x="148.5" y="46.3">桂</text><text rotate="180" x="170" y="66.3">歩</text><text rotate="180" x="105" y="86.3">歩</text>
<text class="s" x="162.5" y="57.7">歩</text><text class="s" x="55 141" y="117.7">歩歩</text><text class="s" x="11 33 76.5 97.5 119 183.5" y="138.2">歩歩歩歩歩歩</text><text class="s" x="33 55 76.5 162.5" y="158.7">角玉銀飛</text><text class="s" x="11 33 76.5 119 162.5 183.5" y="178.2">香桂金金桂香</text></g>

<g id="board-P" transform="translate(515,2880)"><use href="#grid"/><text class="g" x="5" y="-19">(P図)</text><text class="n" x="11 33 55 76.5 97.5 119 141 162.5 183.5" y="-3">987654321</text><text class="s" x="203 203 203 203 203 203 203 203 203" y="16 36 57 77 97 117 137 158 177">一二三四五六七八九</text>
<text class="s" x="225 225 225" y="14.3 29.5 45.5">▲なし</text><text class="s" x="-12.5" y="180">▽</text><text rotate="180" x="-5 -5" y="152.3 137.3">なし</text>
<text rotate="180" x="18.5 40.5 84 170 191" y="5.3">香桂金桂香</text><text rotate="180" x="40.5 105 126.5 148.5" y="26.3">玉飛銀金</text><text class="b" rotate="180" x="62.5" y="26.3">銀</text><text rotate="180" x="18.5 40.5 62.5 84 126.5 148.5 170 191" y="46.3">歩歩歩歩歩角歩歩</text><text rotate="180" x="148.5" y="66.3">歩</text><text rotate="180" x="105" y="86.3">歩</text>
<text class="s" x="162.5" y="97.7">歩</text><text class="s" x="55 119 141" y="117.7">歩銀歩</text><text class="s" x="11 33 76.5 97.5 119 183.5" y="138.2">歩歩歩歩歩歩</text><text class="s" x="33 55 76.5 97.5 162.5" y="158.7">角玉銀金飛</text><text class="s" x="11 33 76.5 162.5 183.5" y="178.2">香桂金桂香</text></g>

<g id="board-Q" transform="translate(775,2934)"><use href="#grid"/><text class="g" x="5" y="-19">(Q図)</text><text class="n" x="11 33 55 76.5 97.5 119 141 162.5 183.5" y="-3">987654321</text><text class="s" x="203 203 203 203 203 203 203 203 203" y="16 36 57 77 97 117 137 158 177">一二三四五六七八九</text>
<text class="s" x="225 225" y="14.3 29.5">▲歩</text><text class="s" x="-12.5" y="180">▽</text><text rotate="180" x="-5" y="152.3">歩</text>
<text rotate="180" x="18.5 40.5 84 170 191" y="5.3">香桂金桂香</text><text rotate="180" x="40.5 62.5 105 148.5" y="26.3">玉銀飛金</text><text rotate="180" x="40.5 62.5 126.5 148.5 170 191" y="46.3">歩歩歩角歩歩</text><text rotate="180" x="18.5 105" y="66.3">歩銀</text><text class="b" rotate="180" x="84" y="86.3">歩</text><text rotate="180" x="105" y="86.3">歩</text>
<text class="s" x="141 162.5" y="97.7">飛歩</text><text class="s" x="11 55 76.5 119" y="117.7">歩歩銀銀</text><text class="s" x="33 76.5 97.5 119 183.5" y="138.2">歩歩歩歩歩</text><text class="s" x="33 55 97.5" y="158.7">角玉金</text><text class="s" x="11 33 76.5 162.5 183.5" y="178.2">香桂金桂香</text></g>

<g id="board-R" transform="translate(775,3168)"><use href="#grid"/><text class="g" x="5" y="-19">(R図)</text><text class="n" x="11 33 55 76.5 97.5 119 141 162.5 183.5" y="-3">987654321</text><text class="s" x="203 203 203 203 203 203 203 203 203" y="16 36 57 77 97 117 137 158 177">一二三四五六七八九</text>
<text class="s" x="225 225" y="14.3 29.5">▲歩</text><text class="s" x="-12.5" y="180">▽</text><text rotate="180" x="-5" y="152.3">歩</text>
<text rotate="180" x="18.5 40.5 84 170 191" y="5.3">香桂金桂香</text><text rotate="180" x="40.5 62.5 105 148.5" y="26.3">玉銀飛金</text><text rotate="180" x="40.5 62.5 126.5 170 191" y="46.3">歩歩歩歩歩</text><text rotate="180" x="18.5 84 105" y="66.3">歩歩銀</text><text class="b" rotate="180" x="126.5" y="66.3">角</text><text rotate="180" x="105" y="86.3">歩</text>
<text class="s" x="141 162.5" y="97.7">飛歩</text><text class="s" x="11 55 76.5 119" y="117.7">歩歩銀銀</text><text class="s" x="33 76.5 97.5 119 183.5" y="138.2">歩歩歩歩歩</text><text class="s" x="33 55 97.5" y="158.7">角玉金</text><text class="s" x="11 33 76.5 162.5 183.5" y="178.2">香桂金桂香</text></g>
</svg>
